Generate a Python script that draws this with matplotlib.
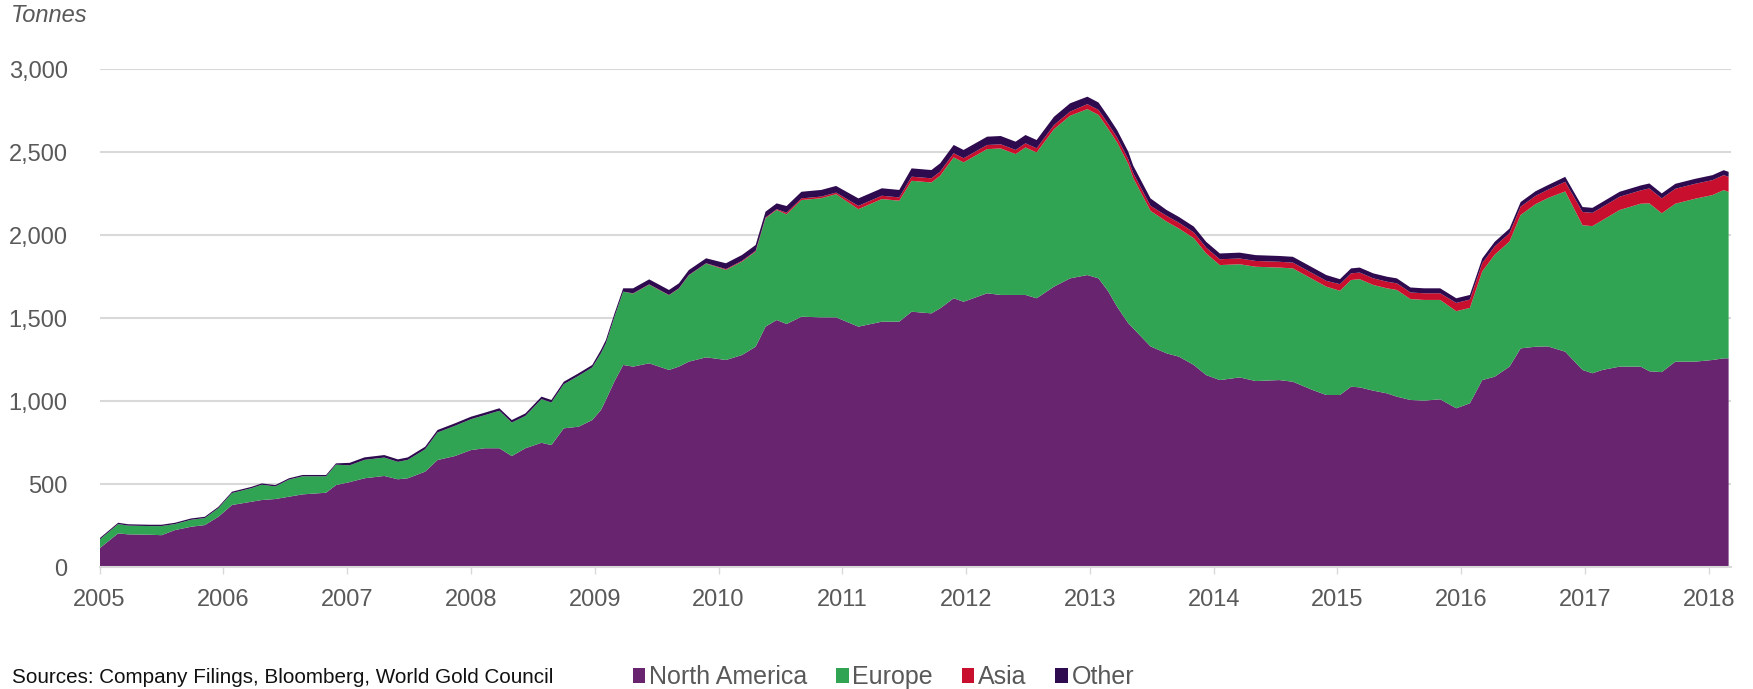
import matplotlib.pyplot as plt
from matplotlib.patches import Patch

# Gold ETF holdings by region (tonnes)
dates = [2005.00, 2005.15, 2005.23, 2005.40, 2005.50, 2005.61, 2005.74, 2005.85, 2005.96,
         2006.07, 2006.23, 2006.31, 2006.42, 2006.53, 2006.64, 2006.83, 2006.91,
         2007.02, 2007.14, 2007.30, 2007.41, 2007.49, 2007.63, 2007.73, 2007.87,
         2008.00, 2008.11, 2008.23, 2008.33, 2008.44, 2008.57, 2008.65, 2008.75, 2008.87, 2008.98,
         2009.05, 2009.09, 2009.16, 2009.23, 2009.31, 2009.44, 2009.60, 2009.68, 2009.76, 2009.90,
         2010.06, 2010.19, 2010.30, 2010.38, 2010.47, 2010.55, 2010.67, 2010.83, 2010.95,
         2011.13, 2011.32, 2011.46, 2011.56, 2011.72, 2011.79, 2011.90, 2011.98,
         2012.17, 2012.28, 2012.40, 2012.48, 2012.57, 2012.71, 2012.84, 2012.98,
         2013.07, 2013.15, 2013.22, 2013.31, 2013.35, 2013.49, 2013.62, 2013.72, 2013.84, 2013.94,
         2014.05, 2014.21, 2014.34, 2014.53, 2014.64, 2014.80, 2014.91,
         2015.02, 2015.11, 2015.18, 2015.29, 2015.40, 2015.48, 2015.59, 2015.70, 2015.83, 2015.96,
         2016.07, 2016.17, 2016.27, 2016.39, 2016.48, 2016.60, 2016.70, 2016.84, 2016.98,
         2017.06, 2017.14, 2017.28, 2017.45, 2017.52, 2017.62, 2017.73, 2017.89,
         2018.03, 2018.12, 2018.16]

north_america = [113, 203, 197, 195, 192, 223, 243, 253, 303,
                 374, 394, 404, 410, 424, 438, 448, 494,
                 512, 535, 549, 529, 535, 575, 645, 669,
                 705, 716, 716, 669, 716, 749, 735, 836, 846, 886,
                 946, 1007, 1120, 1218, 1208, 1228, 1188, 1208, 1238, 1264,
                 1248, 1278, 1328, 1449, 1489, 1465, 1509, 1505, 1505,
                 1449, 1479, 1479, 1539, 1529, 1559, 1620, 1599,
                 1650, 1640, 1640, 1640, 1620, 1690, 1740, 1760,
                 1740, 1660, 1569, 1470, 1439, 1330, 1288, 1268, 1218, 1157,
                 1127, 1143, 1121, 1127, 1117, 1067, 1037,
                 1037, 1087, 1083, 1063, 1047, 1027, 1007, 1003, 1011, 957,
                 987, 1127, 1147, 1208, 1318, 1328, 1330, 1298, 1188,
                 1168, 1188, 1208, 1208, 1180, 1175, 1238, 1238,
                 1248, 1258, 1258]

europe = [52, 56, 53, 52, 55, 36, 42, 42, 52,
          72, 82, 92, 76, 103, 109, 99, 123,
          101, 111, 111, 105, 111, 135, 166, 182,
          186, 199, 226, 202, 195, 263, 257, 266, 307, 317,
          342, 341, 389, 442, 440, 474, 450, 470, 520, 565,
          543, 563, 573, 653, 663, 661, 703, 718, 742,
          708, 739, 729, 789, 789, 799, 849, 840,
          869, 883, 849, 889, 879, 949, 980, 1000,
          985, 979, 990, 959, 906, 817, 794, 772, 764, 733,
          693, 682, 689, 678, 683, 668, 653,
          628, 643, 652, 637, 633, 643, 608, 607, 599, 585,
          575, 655, 735, 754, 804, 859, 894, 966, 872,
          887, 902, 944, 982, 1012, 957, 952, 982,
          994, 1014, 1004]

asia = [0, 0, 0, 0, 0, 0, 0, 0, 0,
        0, 0, 0, 0, 0, 0, 0, 0,
        0, 0, 0, 0, 0, 0, 0, 0,
        0, 0, 0, 0, 0, 0, 0, 0, 0, 0,
        0, 0, 0, 0, 2, 2, 2, 2, 2, 2,
        5, 5, 5, 5, 5, 10, 10, 10, 10,
        20, 20, 20, 25, 25, 25, 25, 25,
        25, 25, 25, 25, 25, 25, 25, 30,
        30, 30, 30, 30, 30, 30, 35, 35, 35, 35,
        35, 35, 35, 35, 35, 35, 35,
        40, 40, 40, 40, 40, 40, 40, 40, 40, 50,
        50, 50, 50, 50, 50, 50, 50, 58, 80,
        80, 80, 80, 80, 90, 90, 90, 90,
        90, 90, 90]

other = [8, 8, 8, 8, 8, 8, 8, 8, 8,
         8, 8, 8, 8, 8, 8, 8, 8,
         15, 15, 15, 15, 15, 15, 15, 15,
         15, 15, 15, 15, 15, 15, 15, 15, 15, 15,
         20, 20, 20, 20, 30, 30, 30, 30, 30, 30,
         35, 35, 35, 35, 35, 40, 40, 40, 40,
         45, 45, 45, 50, 50, 50, 50, 50,
         50, 50, 50, 50, 50, 50, 50, 45,
         45, 45, 45, 45, 45, 45, 35, 35, 35, 35,
         35, 35, 35, 35, 35, 35, 35,
         30, 30, 30, 30, 30, 30, 30, 30, 30, 28,
         28, 28, 28, 28, 28, 28, 28, 30, 30,
         30, 30, 30, 30, 30, 30, 30, 30,
         30, 30, 30]

labels = ["North America", "Europe", "Asia", "Other"]
colors = ["#68246F", "#30A452", "#C8102E", "#2E0A4E"]
years = list(range(2005, 2019))
yticks = [0, 500, 1000, 1500, 2000, 2500, 3000]

plt.rcParams['font.family'] = ['Liberation Sans', 'DejaVu Sans']

fig = plt.figure(figsize=(17.53, 6.89), dpi=100)
ax = fig.add_axes([0.0568, 0.177, 0.9307, 0.7224])

ax.stackplot(dates, north_america, europe, asia, other, colors=colors, linewidth=0, zorder=2)

ax.set_xlim(2005, 2018.18)
ax.set_ylim(0, 3000)
ax.set_xticks(years)
ax.set_xticklabels([str(y) for y in years])
ax.set_yticks(yticks)
ax.set_yticklabels([f"{v:,}" for v in yticks])

ax.grid(axis='y', color='#D9D9D9', linewidth=1.5, zorder=0)
ax.set_axisbelow(True)
for s in ['top', 'right', 'left']:
    ax.spines[s].set_visible(False)
ax.spines['bottom'].set_color('#D9D9D9')
ax.spines['bottom'].set_linewidth(1.5)
ax.spines['bottom'].set_zorder(3)

ax.tick_params(axis='y', length=0, pad=23, labelsize=17, labelcolor='#595959')
ax.tick_params(axis='x', length=5, width=1, color='#D9D9D9', pad=11, labelsize=17, labelcolor='#595959')

fig.text(0.006, 0.977, "Tonnes", fontsize=17, style='italic', color='#595959', va='center', ha='left')
fig.text(0.007, 0.017, "Sources: Company Filings, Bloomberg, World Gold Council",
         fontsize=14.9, color='#111111', va='center', ha='left')

handles = [Patch(facecolor=c, edgecolor='none') for c in colors]
fig.legend(handles, labels, loc='center left', bbox_to_anchor=(0.361, 0.017), ncol=4,
           frameon=False, fontsize=18, handlelength=0.5, handleheight=0.5,
           handletextpad=0.15, columnspacing=1.15, labelcolor='#595959', borderpad=0, borderaxespad=0)

fig.savefig("out.png", dpi=100)
